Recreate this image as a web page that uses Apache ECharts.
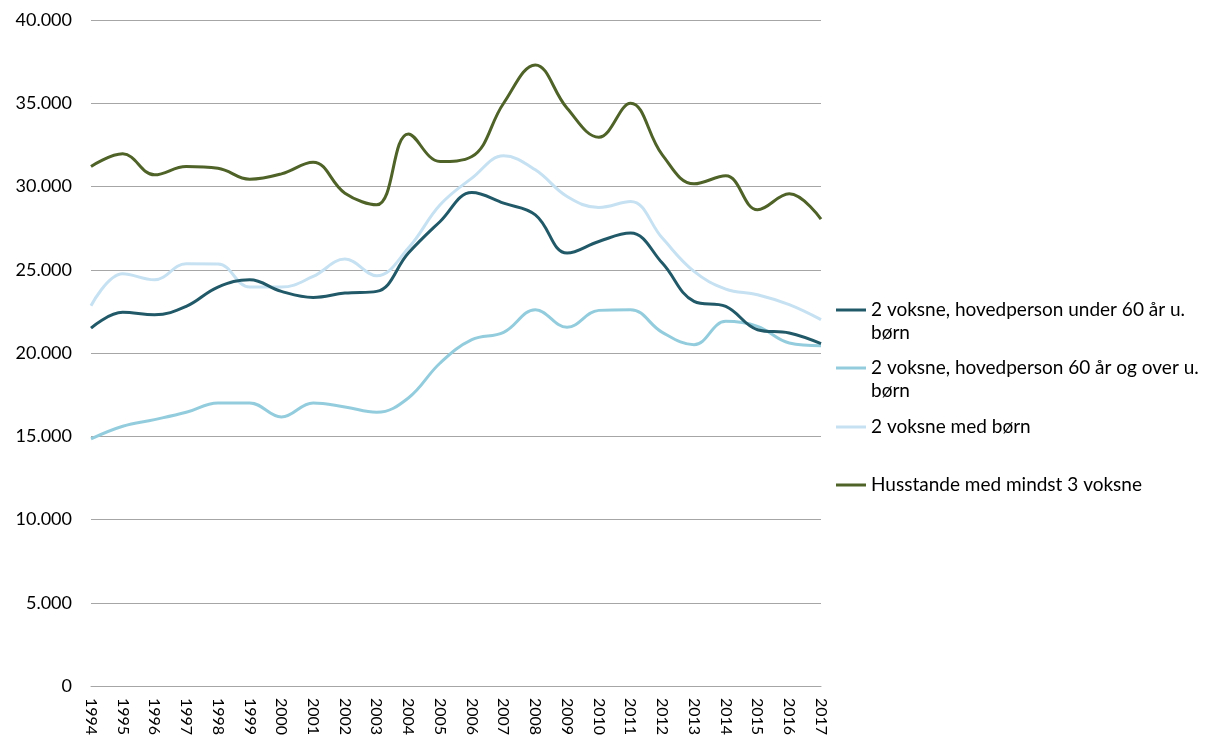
<!DOCTYPE html>
<html>
<head>
<meta charset="utf-8">
<script src="https://cdn.jsdelivr.net/npm/echarts@6/dist/echarts.min.js"></script>
<style>
html,body{margin:0;padding:0;background:#fff;}
#chart{width:1207px;height:743px;}
</style>
</head>
<body>
<div id="chart"></div>
<script>
const years = ['1994','1995','1996','1997','1998','1999','2000','2001','2002','2003','2004','2005','2006','2007','2008','2009','2010','2011','2012','2013','2014','2015','2016','2017'];
const seriesNames = ['2 voksne, hovedperson under 60 år u. børn','2 voksne, hovedperson 60 år og over u. børn','2 voksne med børn','Husstande med mindst 3 voksne'];
const under60 = [21500,22440,22300,22800,23960,24400,23700,23340,23600,23700,26000,27900,29640,29000,28300,26000,26700,27200,25400,23100,22800,21400,21200,20560];
const over60  = [14840,15600,16000,16440,17000,17000,16160,17000,16760,16440,17300,19400,20800,21240,22600,21540,22560,22600,21240,20500,21900,21600,20600,20440];
const medBorn = [22840,24760,24400,25360,25350,23960,23960,24600,25640,24640,26300,28900,30500,31840,31000,29400,28740,29100,26900,24900,23840,23500,22900,22000];
const mindst3 = [31200,31960,30700,31200,31100,30440,30760,31460,29600,28900,33160,31500,31800,35000,37300,34700,32960,35000,31900,30160,30640,28600,29560,28040];
const yTicks = {min:0, max:40000, interval:5000};

const colors = ['#215968','#93cddd','#c6e1f2','#4f6228'];
const font = 'Lato';
const chart = echarts.init(document.getElementById('chart'), null, {renderer:'canvas'});

function fmt(v){ return v === 0 ? '0' : String(v).replace(/\B(?=(\d{3})+(?!\d))/g,'.'); }

// leading blank line keeps the legend line next to the first text row
const legendLabels = [
  '\n2 voksne, hovedperson under 60 år u.\nbørn',
  '\n2 voksne, hovedperson 60 år og over u.\nbørn',
  '2 voksne med børn',
  'Husstande med mindst 3 voksne'
];
const legendCenters = [310, 368, 427, 485];

const legends = seriesNames.map((n,i)=>{
  const lines = legendLabels[i].split('\n').length;
  return {
    data:[n],
    orient:'vertical',
    left:836,
    top:legendCenters[i] - 1.5 - lines*23/2 + 1.5,
    padding:0,
    icon:'rect',
    itemWidth:30,
    itemHeight:3,
    itemGap:0,
    formatter:()=>legendLabels[i],
    textStyle:{fontFamily:font,fontSize:19,color:'#000',lineHeight:23}
  };
});

chart.setOption({
  animation:false,
  color:colors,
  textStyle:{fontFamily:font},
  legend:legends,
  grid:{left:91,right:386,top:20,bottom:57,containLabel:false},
  xAxis:{
    type:'category',
    data:years,
    boundaryGap:false,
    axisLine:{lineStyle:{color:'#a6a6a6',width:1}},
    axisTick:{show:false},
    axisLabel:{rotate:-90,fontFamily:font,fontSize:16,color:'#000',margin:12,interval:0}
  },
  yAxis:{
    type:'value',
    min:yTicks.min,max:yTicks.max,interval:yTicks.interval,
    axisLine:{show:false},
    axisTick:{show:false},
    splitLine:{lineStyle:{color:'#a6a6a6',width:1}},
    axisLabel:{fontFamily:font,fontSize:18,color:'#000',margin:19,formatter:fmt}
  },
  series:[
    {name:seriesNames[0],type:'line',data:under60,smooth:0.4,symbol:'none',lineStyle:{width:3,color:colors[0]},z:4},
    {name:seriesNames[1],type:'line',data:over60,smooth:0.4,symbol:'none',lineStyle:{width:3,color:colors[1]},z:3},
    {name:seriesNames[2],type:'line',data:medBorn,smooth:0.4,symbol:'none',lineStyle:{width:3,color:colors[2]},z:2},
    {name:seriesNames[3],type:'line',data:mindst3,smooth:0.4,symbol:'none',lineStyle:{width:3,color:colors[3]},z:5}
  ]
});
</script>
</body>
</html>
